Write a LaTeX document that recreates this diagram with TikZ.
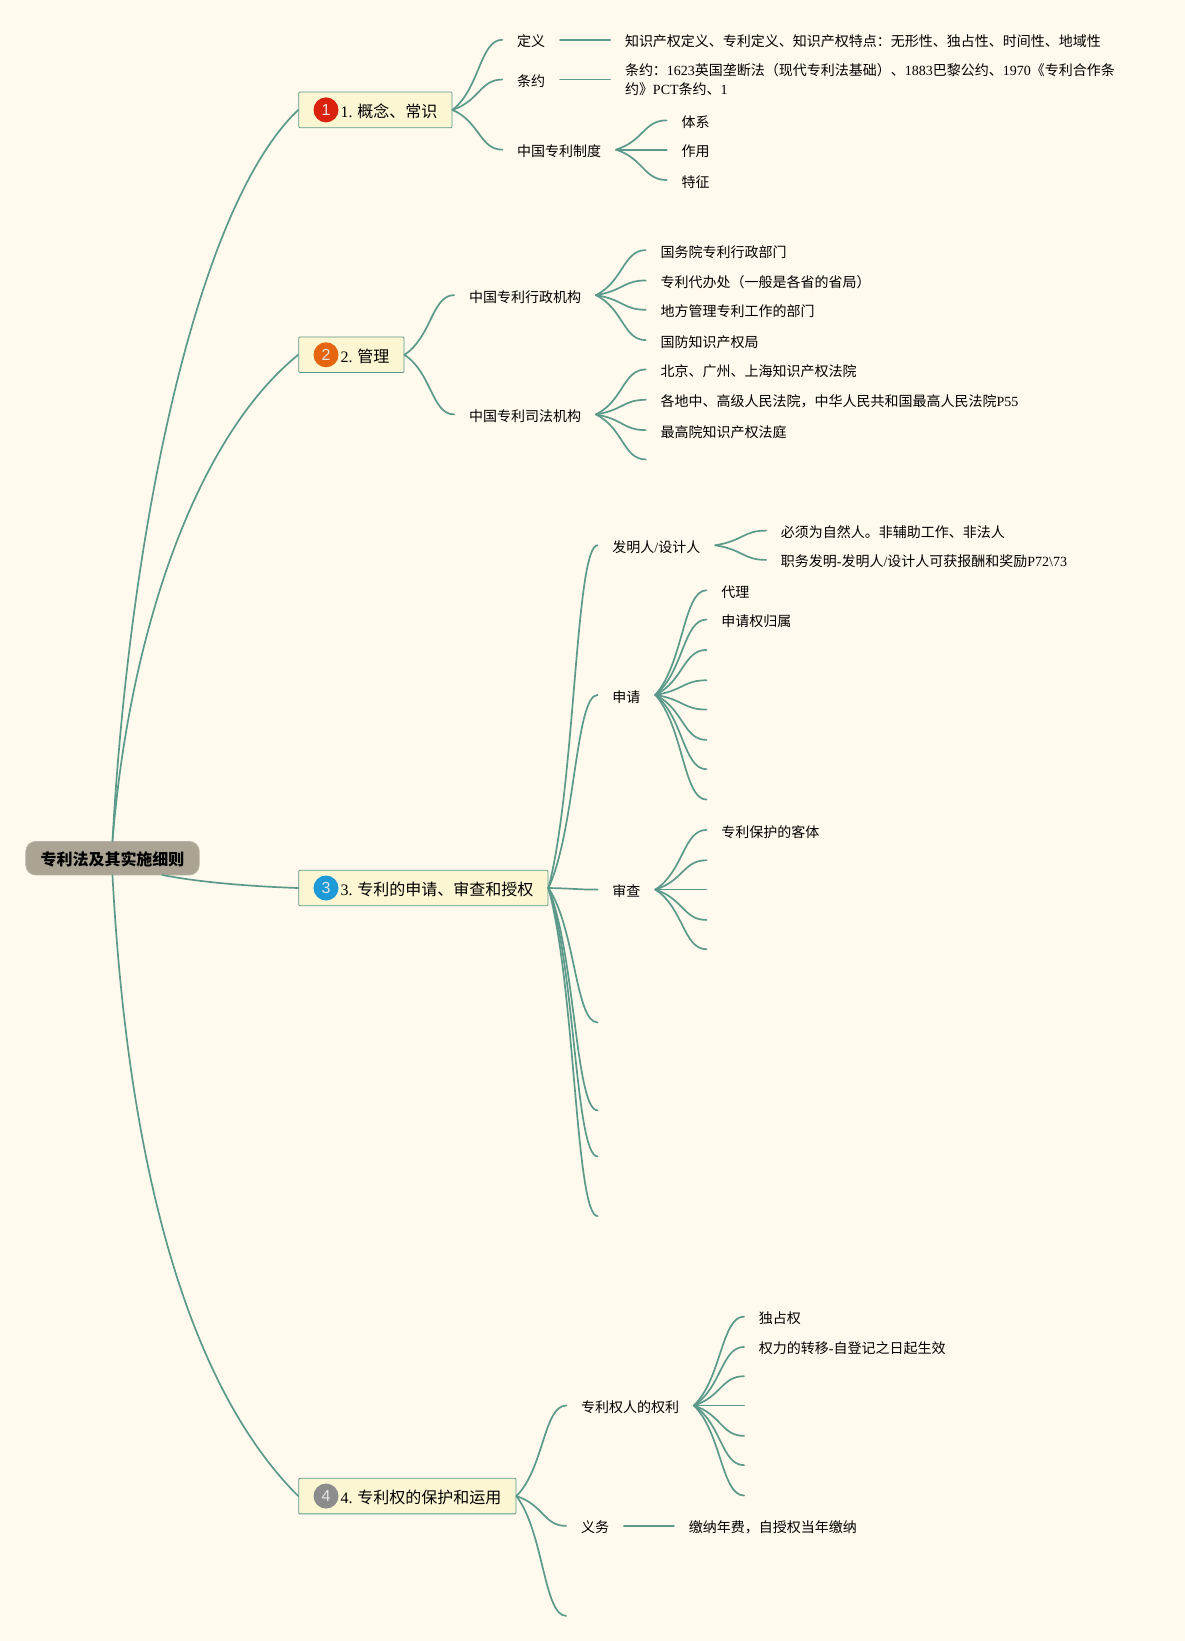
\documentclass[tikz,border=0pt]{standalone}
\usepackage{fontspec}
\setmainfont{Noto Sans CJK SC}
\newfontfamily\latf{Liberation Serif}
\newfontfamily\iconf{Liberation Sans}
\newcommand{\LS}[1]{{\latf #1}}
\usetikzlibrary{calc}
\definecolor{bgc}{HTML}{FFFAED}
\definecolor{linkc}{HTML}{5B9A8B}
\definecolor{topicc}{HTML}{FDF6D3}
\definecolor{rootc}{HTML}{ABA494}
\definecolor{ic1}{HTML}{D9230F}
\definecolor{ic2}{HTML}{E5660F}
\definecolor{ic3}{HTML}{1E9BD7}
\definecolor{ic4}{HTML}{8C8C8C}
\tikzset{
  x=1.0468pt,y=-1.0468pt,
  leaf/.style={anchor=west,inner xsep=14.66pt,inner ysep=1pt,text=black,font=\fontsize{14}{19.5}\selectfont,align=left,execute at begin node={\rule{0pt}{15.3pt}}},
  topic/.style={anchor=west,draw=linkc,fill=topicc,line width=0.8pt,rounded corners=1pt,inner xsep=14.6pt,inner ysep=0pt,minimum height=35.6pt,text=black,font=\fontsize{16}{19}\selectfont,execute at begin node={\rule{0pt}{16.2pt}\hspace{27.4pt}}},
  rootnode/.style={draw=rootc!85!white,fill=rootc,line width=0.8pt,rounded corners=10pt,minimum width=173.5pt,minimum height=33.5pt,inner sep=0pt,text=black,font=\fontsize{16}{19}\selectfont\bfseries,execute at begin node={\rule{0pt}{16pt}}},
  icon/.style={circle,minimum size=25pt,inner sep=0pt,text=white!90!black,font=\iconf\fontsize{16}{16}\selectfont},
  conn/.style={draw=linkc,line width=1.7pt,line cap=round}
}
\newcommand{\lnk}[2]{\draw[conn] let \p1=(#1),\p2=(#2),\n1={\x2-\x1},\n2={\y2-\y1} in (\p1) .. controls (\x1+0.55*\n1,\y1+0.3*\n2) and (\x1+0.55*\n1,\y2) .. (\p2);}
\begin{document}
\begin{tikzpicture}
\fill[bgc] (0,0) rectangle (1132,1568);
\useasboundingbox (0,0) rectangle (1132,1568);
% root and topics
\node[rootnode] (root) at (107.5,820) {专利法及其实施细则};
\node[topic] (t1) at (285,105) {\LS{1.} 概念、常识};
\node[topic] (t2) at (285,339) {\LS{2.} 管理};
\node[topic] (t3) at (285,848.5) {\LS{3.} 专利的申请、审查和授权};
\node[topic] (t4) at (285,1429.5) {\LS{4.} 专利权的保护和运用};
\node[icon,fill=ic1] (i1) at (311.5,105) {1};
\node[icon,fill=ic2] (i2) at (311.5,339) {2};
\node[icon,fill=ic3] (i3) at (311.5,848.5) {3};
\node[icon,fill=ic4] (i4) at (311.5,1429.5) {4};
\coordinate (r3) at (155,836);
\draw[conn] (root.north) .. controls (123,520) and (185,200) .. (t1.west);
\draw[conn] (root.north) .. controls (123,610) and (185,420) .. (t2.west);
\draw[conn] (r3) .. controls (190,843) and (240,847) .. (t3.west);
\draw[conn] (root.south) .. controls (123,1130) and (185,1330) .. (t4.west);
% topic 1
\node[leaf] (a1) at (480,38) {定义};
\node[leaf] (a2) at (480,76) {条约};
\node[leaf] (a3) at (480,143) {中国专利制度};
\node[leaf] (a11) at (583,38) {知识产权定义、专利定义、知识产权特点：无形性、独占性、时间性、地域性};
\node[leaf] (a21) at (583,76) {条约：\LS{1623}英国垄断法（现代专利法基础）、\LS{1883}巴黎公约、\LS{1970}《专利合作条\\约》\LS{PCT}条约、\LS{1}};
\node[leaf] (a31) at (637,115) {体系};
\node[leaf] (a32) at (637,143) {作用};
\node[leaf] (a33) at (637,172) {特征};
\lnk{t1.east}{a1.west}\lnk{t1.east}{a2.west}\lnk{t1.east}{a3.west}
\lnk{a1.east}{a11.west}\lnk{a2.east}{a21.west}
\lnk{a3.east}{a31.west}\lnk{a3.east}{a32.west}\lnk{a3.east}{a33.west}
% topic 2
\node[leaf] (b1) at (434,282) {中国专利行政机构};
\node[leaf] (b2) at (434,396) {中国专利司法机构};
\node[leaf] (b11) at (617,239) {国务院专利行政部门};
\node[leaf] (b12) at (617,268) {专利代办处（一般是各省的省局）};
\node[leaf] (b13) at (617,296) {地方管理专利工作的部门};
\node[leaf] (b14) at (617,325) {国防知识产权局};
\node[leaf] (b21) at (617,353) {北京、广州、上海知识产权法院};
\node[leaf] (b22) at (617,382) {各地中、高级人民法院，中华人民共和国最高人民法院\LS{P55}};
\node[leaf] (b23) at (617,411) {最高院知识产权法庭};
\coordinate (b24) at (617,439);
\lnk{t2.east}{b1.west}\lnk{t2.east}{b2.west}
\lnk{b1.east}{b11.west}\lnk{b1.east}{b12.west}\lnk{b1.east}{b13.west}\lnk{b1.east}{b14.west}
\lnk{b2.east}{b21.west}\lnk{b2.east}{b22.west}\lnk{b2.east}{b23.west}\lnk{b2.east}{b24}
% topic 3
\node[leaf] (c1) at (571,521) {发明人\LS{/}设计人};
\node[leaf] (c2) at (571,664) {申请};
\node[leaf] (c3) at (571,850) {审查};
\coordinate (c4) at (571,977);
\coordinate (c5) at (571,1061);
\coordinate (c6) at (571,1105);
\coordinate (c7) at (571,1162);
\node[leaf] (c11) at (732,507) {必须为自然人。非辅助工作、非法人};
\node[leaf] (c12) at (732,535) {职务发明\LS{-}发明人\LS{/}设计人可获报酬和奖励\LS{P72\textbackslash 73}};
\node[leaf] (c21) at (675,564) {代理};
\node[leaf] (c22) at (675,592) {申请权归属};
\coordinate (c23) at (675,621);
\coordinate (c24) at (675,650);
\coordinate (c25) at (675,678);
\coordinate (c26) at (675,707);
\coordinate (c27) at (675,735);
\coordinate (c28) at (675,764);
\node[leaf] (c31) at (675,793) {专利保护的客体};
\coordinate (c32) at (675,822);
\coordinate (c33) at (675,850);
\coordinate (c34) at (675,879);
\coordinate (c35) at (675,907);
\lnk{t3.east}{c1.west}\lnk{t3.east}{c2.west}\lnk{t3.east}{c3.west}
\lnk{t3.east}{c4}\lnk{t3.east}{c5}\lnk{t3.east}{c6}\lnk{t3.east}{c7}
\lnk{c1.east}{c11.west}\lnk{c1.east}{c12.west}
\lnk{c2.east}{c21.west}\lnk{c2.east}{c22.west}\lnk{c2.east}{c23}\lnk{c2.east}{c24}
\lnk{c2.east}{c25}\lnk{c2.east}{c26}\lnk{c2.east}{c27}\lnk{c2.east}{c28}
\lnk{c3.east}{c31.west}\lnk{c3.east}{c32}\lnk{c3.east}{c33}\lnk{c3.east}{c34}\lnk{c3.east}{c35}
% topic 4
\node[leaf] (d1) at (541,1343) {专利权人的权利};
\node[leaf] (d2) at (541,1458) {义务};
\coordinate (d3) at (541,1544);
\node[leaf] (d11) at (711,1258) {独占权};
\node[leaf] (d12) at (711,1287) {权力的转移\LS{-}自登记之日起生效};
\coordinate (d13) at (711,1315);
\coordinate (d14) at (711,1343);
\coordinate (d15) at (711,1372);
\coordinate (d16) at (711,1400);
\coordinate (d17) at (711,1429);
\node[leaf] (d21) at (644,1458) {缴纳年费，自授权当年缴纳};
\lnk{t4.east}{d1.west}\lnk{t4.east}{d2.west}\lnk{t4.east}{d3}
\lnk{d1.east}{d11.west}\lnk{d1.east}{d12.west}\lnk{d1.east}{d13}\lnk{d1.east}{d14}
\lnk{d1.east}{d15}\lnk{d1.east}{d16}\lnk{d1.east}{d17}
\lnk{d2.east}{d21.west}
\end{tikzpicture}
\end{document}
